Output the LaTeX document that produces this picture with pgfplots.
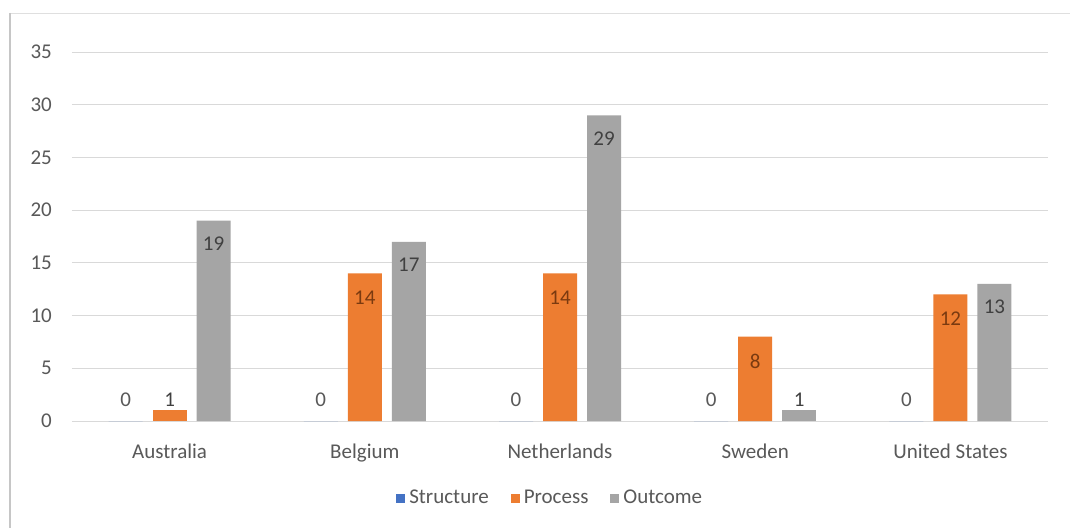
\documentclass[border=0pt]{standalone}
\usepackage{fontspec}
\setmainfont{Carlito}
\usepackage{pgfplots}
\pgfplotsset{compat=1.18}
\definecolor{cS}{HTML}{4472C4}
\definecolor{cP}{HTML}{ED7D31}
\definecolor{cO}{HTML}{A5A5A5}
\definecolor{txt}{HTML}{595959}
\definecolor{lblo}{HTML}{404040}
\definecolor{lblb}{HTML}{7A3A10}
\definecolor{gridc}{HTML}{D9D9D9}

\begin{document}
\fontsize{21}{25}\selectfont
\begin{tikzpicture}
\useasboundingbox (-72pt,-107pt) rectangle (998pt,421pt);
\fill[white] (-72pt,-107pt) rectangle (998pt,421pt);
\draw[line width=0.8pt, draw=gray!25] (-62pt,408pt) -- (998pt,408pt);
\draw[line width=2.5pt, draw=gray!45] (-62pt,408pt) -- (-62pt,-107pt);
\begin{axis}[
  at={(0,0)}, anchor=south west,
  scale only axis,
  width=976pt, height=369pt,
  xmin=-0.5, xmax=4.5, ymin=0, ymax=35,
  enlargelimits=false,
  ybar, bar width=34pt,
  axis line style={draw=none},
  tick style={draw=none},
  ymajorgrids, major grid style={draw=gridc, line width=0.9pt},
  ytick={0,5,...,35},
  xtick={0,1,2,3,4},
  xticklabels={Australia,Belgium,Netherlands,Sweden,United States},
  /pgf/number format/assume math mode=true,
  ticklabel style={font=\fontsize{21}{25}\selectfont, text=txt},
  yticklabel style={xshift=-13pt},
  xticklabel style={yshift=-11pt},
  legend style={at={(0.49,-0.21)}, anchor=center, draw=none, fill=none,
    legend columns=3, font=\fontsize{21}{25}\selectfont, text=txt,
    /tikz/every odd column/.append style={column sep=2pt},
    /tikz/every even column/.append style={column sep=20pt}},
  legend image code/.code={\fill[#1] (0pt,-4.5pt) rectangle (9pt,4.5pt);},
  nodes near coords,
  every node near coord/.append style={font=\fontsize{21}{25}\selectfont, anchor=center},
]
% Structure (all zero)
\addplot[fill=cS, draw=none, bar shift=-44pt,
  every node near coord/.append style={text=txt, yshift=21pt}]
  coordinates {(0,0) (1,0) (2,0) (3,0) (4,0)};
\addlegendentry{Structure}
% Process
\addplot[fill=cP, draw=none, bar shift=0pt,
  every node near coord/.append style={text=lblb, yshift=-24.5pt}]
  coordinates {(1,14) (2,14) (3,8) (4,12)};
\addlegendentry{Process}
% Outcome
\addplot[fill=cO, draw=none, bar shift=44pt,
  every node near coord/.append style={text=lblo, yshift=-23pt}]
  coordinates {(0,19) (1,17) (2,29) (4,13)};
\addlegendentry{Outcome}
% small bars with labels above
\addplot[fill=cP, draw=none, bar shift=0pt, forget plot,
  every node near coord/.append style={text=lblo, yshift=10.5pt}]
  coordinates {(0,1)};
\addplot[fill=cO, draw=none, bar shift=44pt, forget plot,
  every node near coord/.append style={text=lblo, yshift=10.5pt}]
  coordinates {(3,1)};
\end{axis}
\end{tikzpicture}
\end{document}
